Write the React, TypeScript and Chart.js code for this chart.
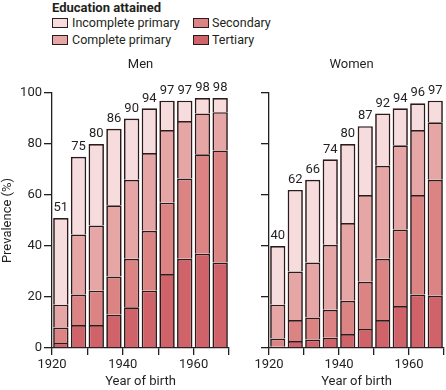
import React, { useEffect, useRef } from "react";
import { Chart, registerables } from "chart.js";

Chart.register(...registerables);

// ---- Data ----
const cohorts = [1922.5, 1927.5, 1932.5, 1937.5, 1942.5, 1947.5, 1952.5, 1957.5, 1962.5, 1967.5];
const xTickLabels = [1920, 1940, 1960];
const levels = ["Incomplete primary", "Complete primary", "Secondary", "Tertiary"];

// Men: segment sizes (% of population), stacked bottom → top: Tertiary, Secondary, Complete, Incomplete
const menTertiary = [2, 9, 9, 13, 16, 22.5, 29, 35, 37, 33.5];
const menSecondary = [6, 12, 13.5, 15, 19, 23.5, 28, 31.5, 39, 44];
const menCompletePrimary = [9, 23.5, 25.5, 28, 31, 30.5, 28.5, 22.5, 16, 15];
const menIncompletePrimary = [34, 30.5, 32, 30, 24, 17.5, 11.5, 8, 6, 5.5];
const menTotals = [51, 75, 80, 86, 90, 94, 97, 97, 98, 98];

// Women
const womenTertiary = [0.5, 2.7, 3.3, 4, 5.5, 7.5, 11, 16.5, 21, 20.5];
const womenSecondary = [3.2, 8.3, 8.7, 11, 13, 18.5, 24, 30, 39, 45.5];
const womenCompletePrimary = [13.3, 19, 21.5, 25.5, 30.5, 34, 36.5, 33, 25.5, 22.5];
const womenIncompletePrimary = [23, 32, 32.5, 33.5, 31, 27, 20.5, 14.5, 10.5, 8.5];
const womenTotals = [40, 62, 66, 74, 80, 87, 92, 94, 96, 97];

// ---- Styles ----
const FONT = "Roboto, 'Open Sans', sans-serif";
const TEXT = "#231f20";
const AXIS = "#231f20";
const OUTLINE = "#2e1a1a";
const levelColors: Record<string, string> = {
  "Incomplete primary": "#f6dcdc",
  "Complete primary": "#e6a6a5",
  Secondary: "#dc8484",
  Tertiary: "#d0636a",
};

const panelTextPlugin = {
  id: "panelText",
  afterDraw(chart: any, _args: any, opts: any) {
    const { ctx, chartArea } = chart;
    ctx.save();
    ctx.fillStyle = TEXT;
    ctx.font = `13px ${FONT}`;
    ctx.textAlign = "center";
    ctx.textBaseline = "middle";
    // panel title
    ctx.fillText(opts.title, (chartArea.left + chartArea.right) / 2 + (opts.titleDx || 0), 65);
    // totals above bars
    const meta = chart.getDatasetMeta(chart.data.datasets.length - 1);
    const totals: number[] = opts.totals || [];
    meta.data.forEach((el: any, i: number) => {
      ctx.fillText(String(totals[i]), el.x, el.y - 10);
    });
    ctx.restore();
  },
};

function makeDatasets(t: number[], s: number[], c: number[], inc: number[]) {
  const series: [string, number[]][] = [
    ["Tertiary", t],
    ["Secondary", s],
    ["Complete primary", c],
    ["Incomplete primary", inc],
  ];
  return series.map(([label, arr]) => ({
    label,
    data: cohorts.map((x, i) => ({ x, y: arr[i] })),
    backgroundColor: levelColors[label],
    borderColor: OUTLINE,
    borderWidth: 1.7,
    borderSkipped: "start" as const,
    barPercentage: 0.87,
    categoryPercentage: 1,
  }));
}

function makeOptions(opts: {
  showYLabels: boolean;
  yWidth: number;
  padRight: number;
  title: string;
  titleDx: number;
  totals: number[];
}) {
  const tickFont = { family: FONT, size: 13 };
  return {
    animation: false as const,
    responsive: false,
    maintainAspectRatio: false,
    layout: { padding: { top: 93, right: opts.padRight, bottom: 0, left: 0 } },
    plugins: {
      legend: { display: false },
      tooltip: { enabled: false },
      title: { display: false },
      panelText: { title: opts.title, titleDx: opts.titleDx, totals: opts.totals },
    },
    scales: {
      x: {
        type: "linear" as const,
        min: 1920,
        max: 1970,
        stacked: true,
        offset: false,
        ticks: {
          stepSize: 10,
          autoSkip: false,
          maxRotation: 0,
          padding: 2,
          color: TEXT,
          font: tickFont,
          callback: (v: any) => (xTickLabels.includes(Number(v)) ? String(v) : ""),
        },
        grid: {
          offset: false,
          drawOnChartArea: false,
          drawTicks: true,
          tickLength: 7,
          color: AXIS,
          lineWidth: 1.3,
        },
        border: { display: true, color: AXIS, width: 1.3 },
        title: {
          display: true,
          text: "Year of birth",
          color: TEXT,
          font: { family: FONT, size: 13 },
          padding: 0,
        },
        afterFit: (s: any) => {
          s.height = 42;
        },
      },
      y: {
        min: 0,
        max: 100,
        stacked: true,
        ticks: {
          stepSize: 20,
          padding: 2,
          color: TEXT,
          font: tickFont,
          callback: (v: any) => (opts.showYLabels ? String(v) : ""),
        },
        grid: {
          drawOnChartArea: false,
          drawTicks: true,
          tickLength: 8,
          color: AXIS,
          lineWidth: 1.3,
        },
        border: { display: true, color: AXIS, width: 1.3 },
        title: {
          display: opts.showYLabels,
          text: "Prevalence (%)",
          color: TEXT,
          font: { family: FONT, size: 13 },
          padding: 0,
        },
        afterFit: (s: any) => {
          s.width = opts.yWidth;
        },
      },
    },
  };
}

function Swatch({ color, left, top }: { color: string; left: number; top: number }) {
  return (
    <div
      style={{
        position: "absolute",
        left,
        top,
        width: 16,
        height: 10,
        boxSizing: "border-box",
        border: `1.5px solid ${OUTLINE}`,
        background: color,
      }}
    />
  );
}

function LegendText({ text, left, top }: { text: string; left: number; top: number }) {
  return (
    <div
      style={{
        position: "absolute",
        left,
        top,
        fontFamily: FONT,
        fontSize: 12.5,
        lineHeight: "16px",
        color: TEXT,
        whiteSpace: "nowrap",
      }}
    >
      {text}
    </div>
  );
}

export default function App() {
  const menRef = useRef<HTMLCanvasElement | null>(null);
  const womenRef = useRef<HTMLCanvasElement | null>(null);

  useEffect(() => {
    const charts: Chart[] = [];
    if (menRef.current) {
      charts.push(
        new Chart(menRef.current, {
          type: "bar",
          data: {
            datasets: makeDatasets(menTertiary, menSecondary, menCompletePrimary, menIncompletePrimary) as any,
          },
          options: makeOptions({
            showYLabels: true,
            yWidth: 52,
            padRight: 7,
            title: "Men",
            titleDx: 0,
            totals: menTotals,
          }) as any,
          plugins: [panelTextPlugin],
        })
      );
    }
    if (womenRef.current) {
      charts.push(
        new Chart(womenRef.current, {
          type: "bar",
          data: {
            datasets: makeDatasets(womenTertiary, womenSecondary, womenCompletePrimary, womenIncompletePrimary) as any,
          },
          options: makeOptions({
            showYLabels: false,
            yWidth: 33,
            padRight: 1.5,
            title: "Women",
            titleDx: -5,
            totals: womenTotals,
          }) as any,
          plugins: [panelTextPlugin],
        })
      );
    }
    return () => charts.forEach((c) => c.destroy());
  }, []);

  return (
    <div
      style={{
        position: "fixed",
        left: 0,
        top: 0,
        width: 446,
        height: 390,
        background: "#ffffff",
        overflow: "hidden",
      }}
    >
      <div
        style={{
          position: "absolute",
          left: 52,
          top: 0,
          fontFamily: FONT,
          fontWeight: 700,
          fontSize: 13,
          lineHeight: "15px",
          color: TEXT,
          whiteSpace: "nowrap",
        }}
      >
        Education attained
      </div>
      <Swatch color={levelColors[levels[0]]} left={52} top={18} />
      <LegendText text={levels[0]} left={72} top={15} />
      <Swatch color={levelColors[levels[1]]} left={52} top={35} />
      <LegendText text={levels[1]} left={72} top={32} />
      <Swatch color={levelColors[levels[2]]} left={193} top={18} />
      <LegendText text={levels[2]} left={212} top={15} />
      <Swatch color={levelColors[levels[3]]} left={193} top={35} />
      <LegendText text={levels[3]} left={212} top={32} />
      <canvas
        ref={menRef}
        width={236}
        height={390}
        style={{ position: "absolute", left: 0, top: 0, width: 236, height: 390 }}
      />
      <canvas
        ref={womenRef}
        width={210}
        height={390}
        style={{ position: "absolute", left: 236, top: 0, width: 210, height: 390 }}
      />
    </div>
  );
}
